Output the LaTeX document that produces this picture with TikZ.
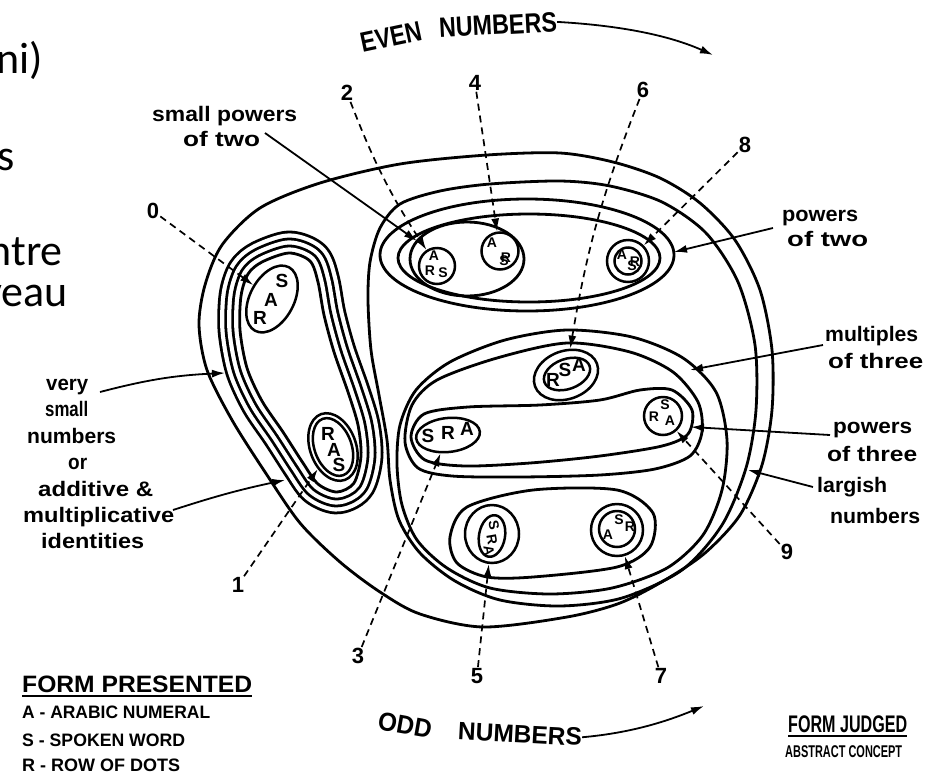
\documentclass[tikz,border=0pt]{standalone}
\usepackage{fontspec}
\usepackage{graphicx}
\setmainfont{Liberation Sans}
\newfontfamily\slidefont{Carlito}
\usetikzlibrary{arrows.meta,shapes.geometric}
\newcommand{\fw}[3]{\resizebox{#1pt}{\height}{\fontsize{#2}{#2}\selectfont\bfseries #3}}
\tikzset{
  contour/.style={line width=2.8pt, line join=round},
  dline/.style={line width=1.7pt, dash pattern=on 7pt off 5pt},
  arr/.style={-{Latex[length=13pt,width=8pt]}},
  larr/.style={line width=1.8pt, -{Latex[length=13pt,width=8pt]}},
  lab/.style={inner sep=0pt, anchor=base west},
  slide/.style={inner sep=0pt, anchor=base east, font=\slidefont\fontsize{44}{44}\selectfont},
  ltr/.style={inner sep=0pt, font=\fontsize{19}{19}\selectfont\bfseries},
  ltrs/.style={inner sep=0pt, font=\fontsize{14}{14}\selectfont\bfseries},
  ring/.style={draw, line width=2.5pt, circle, inner sep=0pt},
  oval/.style={draw, line width=2.5pt, ellipse, inner sep=0pt},
  num/.style={inner sep=1pt, font=\fontsize{22}{22}\selectfont\bfseries},
}
\begin{document}
\begin{tikzpicture}[x=1pt,y=-1pt]
\useasboundingbox (0,0) rectangle (930,772);
\fill[white] (0,0) rectangle (930,772);

% slide fragments
\node[slide] (sf1) at (43,73) {ni)};
\node[slide] (sf2) at (15,170) {s};
\node[slide] (sf3) at (63,265) {ntre};
\node[slide] (sf4) at (68,306) {veau};

% big contours
\draw[contour] plot[smooth cycle] coordinates {(199,325) (205,285) (222,245) (260,208) (320,183) (400,164) (487,155) (560,153) (613,162) (660,178) (700,203) (735,240) (760,290) (772,350) (772,410) (762,465) (740,515) (705,553) (665,580) (620,603) (567,617) (483,627) (420,614) (380,592) (340,562) (300,523) (265,472) (232,420) (207,370)};
\draw[contour] plot[smooth cycle] coordinates {(370,262) (380,228) (400,204) (440,191) (490,184) (560,181) (610,186) (662,202) (706,233) (738,282) (755,345) (756,410) (746,468) (722,525) (682,570) (622,598) (560,606) (500,600) (455,581) (420,553) (399,520) (390,480) (387,440) (379,395) (371,350) (368,300)};
\draw[contour] plot[smooth cycle] coordinates {(505,340) (567,330) (632,337) (683,358) (716,392) (727,440) (722,490) (703,535) (667,568) (612,588) (550,594) (490,588) (447,568) (417,540) (402,505) (397,465) (400,425) (416,390) (450,362)};
\draw[contour] plot[smooth cycle] coordinates {(497,358) (567,343) (630,352) (673,372) (698,402) (702,432) (690,456) (655,469) (600,475) (520,477) (452,476) (418,468) (405,442) (412,405) (437,380)};
\draw[contour] plot[smooth cycle] coordinates {(411,437) (424,414) (468,407) (540,405) (600,400) (640,390) (672,390) (692,410) (688,434) (662,446) (600,456) (530,463) (465,466) (425,460)};
\draw[contour] plot[smooth cycle] coordinates {(450,537) (467,507) (533,490) (617,490) (653,513) (650,547) (617,567) (533,577) (487,577) (457,563)};
% top group
\draw[contour] (527,255) ellipse [x radius=147pt, y radius=56pt];
\draw[contour] (529,258) ellipse [x radius=131pt, y radius=44pt];
\draw[contour] (467,259) ellipse [x radius=57pt, y radius=37pt];

% left group (nested parallel contours)
\foreach \w/\c in {44.8/black,39.2/white,30.8/black,25.2/white,16.8/black,11.2/white}{
  \draw[line width=\w pt, \c, line join=round] plot[smooth cycle] coordinates {(262,262) (289,253) (310,261) (318,282) (324,315) (334,352) (348,392) (358,425) (361,456) (354,483) (337,492) (318,484) (303,463) (283,432) (262,401) (247,368) (240,330) (241,296) (248,274)};
}
\filldraw[contour, fill=white] plot[smooth cycle] coordinates {(262,262) (289,253) (310,261) (318,282) (324,315) (334,352) (348,392) (358,425) (361,456) (354,483) (337,492) (318,484) (303,463) (283,432) (262,401) (247,368) (240,330) (241,296) (248,274)};

% elements
\node[oval, minimum width=72pt, minimum height=44pt, rotate=62] (e0) at (272,299) {};
\node[ltr] (l0s) at (282,281) {S};
\node[ltr] (l0a) at (271,300) {A};
\node[ltr] (l0r) at (260,318) {R};
\node[oval, minimum width=70pt, minimum height=46pt, rotate=-70] (e1o) at (333,447) {};
\node[oval, minimum width=60pt, minimum height=37pt, rotate=-70] (e1i) at (333,447) {};
\node[ltr] (l1r) at (328,434) {R};
\node[ltr] (l1a) at (334,450) {A};
\node[ltr] (l1s) at (339,465) {S};
\node[ring, minimum size=36pt] (e2) at (437,266) {};
\node[ltrs] (l2a) at (434,256) {A};
\node[ltrs] (l2r) at (430,271) {R};
\node[ltrs] (l2s) at (443,273) {S};
\node[ring, minimum size=37pt] (e4) at (500,251) {};
\node[ltrs] (l4a) at (492,243) {A};
\node[ltrs] (l4r) at (506,258) {R};
\node[ltrs] (l4s) at (504,261) {S};
\node[ring, minimum size=42pt] (e8o) at (628,261) {};
\node[ring, minimum size=27pt] (e8i) at (628,261) {};
\node[ltrs] (l8a) at (622,255) {A};
\node[ltrs] (l8r) at (635,262) {R};
\node[ltrs] (l8s) at (632,266) {S};
\node[oval, minimum width=66pt, minimum height=48pt, rotate=20] (e6o) at (566,375) {};
\node[oval, minimum width=48pt, minimum height=30pt, rotate=20] (e6i) at (567,374) {};
\node[ltr] (l6r) at (553,380) {R};
\node[ltr] (l6s) at (565,370) {S};
\node[ltr] (l6a) at (579,365) {A};
\node[oval, minimum width=64pt, minimum height=34pt, rotate=6] (e3) at (448,435) {};
\node[ltr] (l3s) at (428,436) {S};
\node[ltr] (l3r) at (448,433) {R};
\node[ltr] (l3a) at (467,429) {A};
\node[ring, minimum size=38pt] (e9) at (663,416) {};
\node[ltrs] (l9s) at (665,405) {S};
\node[ltrs] (l9r) at (654,417) {R};
\node[ltrs] (l9a) at (670,421) {A};
\node[oval, minimum width=54pt, minimum height=58pt] (e5o) at (492,534) {};
\node[oval, minimum width=26pt, minimum height=42pt, rotate=-10] (e5i) at (492,536) {};
\node[ltrs, rotate=-80] (l5s) at (494,525) {S};
\node[ltrs, rotate=-80] (l5r) at (492,540) {R};
\node[ltrs, rotate=-80] (l5a) at (489,551) {A};
\node[ring, minimum size=52pt] (e7o) at (617,530) {};
\node[ring, minimum size=36pt] (e7i) at (617,529) {};
\node[ltrs] (l7s) at (619,520) {S};
\node[ltrs] (l7r) at (630,527) {R};
\node[ltrs] (l7a) at (608,535) {A};

% numbers
\node[num] (n0) at (153,211) {0};
\node[num] (n1) at (238,585) {1};
\node[num] (n2) at (347,93) {2};
\node[num] (n3) at (358,656) {3};
\node[num] (n4) at (475,83) {4};
\node[num] (n5) at (477,676) {5};
\node[num] (n6) at (643,90) {6};
\node[num] (n7) at (661,676) {7};
\node[num] (n8) at (745,145) {8};
\node[num] (n9) at (787,552) {9};

\draw[dline, arr] (n0) -- (e0);
\draw[dline, arr] (n1) -- (e1o);
\draw[dline, arr] (n2) to[bend right=6] (e2);
\draw[dline, arr] (n4) -- (e4);
\draw[dline, arr] (n6) to[bend right=6] (e6o);
\draw[dline, arr] (n8) -- (e8o);
\draw[dline, arr] (n3) -- (e3);
\draw[dline, arr] (n5) -- (e5o);
\draw[dline, arr] (n7) -- (e7o);
\draw[dline, arr] (n9) -- (e9);

% labels
\node[lab] (tsp1) at (152,121) {\fw{145}{21}{small powers}};
\node[lab] (tsp2) at (183,146) {\fw{77}{21}{of two}};
\node[lab] (tpt1) at (782,221) {\fw{76}{21}{powers}};
\node[lab] (tpt2) at (787,246) {\fw{81}{21}{of two}};
\node[lab] (tmt1) at (825,341) {\fw{93}{21}{multiples}};
\node[lab] (tmt2) at (828,368) {\fw{95}{21}{of three}};
\node[lab] (tp31) at (833,433) {\fw{79}{21}{powers}};
\node[lab] (tp32) at (827,461) {\fw{90}{21}{of three}};
\node[lab] (tlg1) at (817,492) {\fw{70}{21}{largish}};
\node[lab] (tlg2) at (830,523) {\fw{90}{21}{numbers}};
\node[lab] (tv1) at (46,390) {\fw{42}{21}{very}};
\node[lab] (tv2) at (45,416) {\fw{43}{21}{small}};
\node[lab] (tv3) at (27,443) {\fw{89}{21}{numbers}};
\node[lab] (tv4) at (68,469) {\fw{19}{21}{or}};
\node[lab] (tv5) at (38,496) {\fw{115}{21}{additive \&}};
\node[lab] (tv6) at (23,522) {\fw{151}{21}{multiplicative}};
\node[lab] (tv7) at (41,548) {\fw{103}{21}{identities}};

% label arrows
\coordinate (a1s) at (265,133); \coordinate (a1t) at (417,241);
\draw[larr] (a1s) -- (a1t);
\coordinate (a2s) at (773,228); \coordinate (a2t) at (674,252);
\draw[larr] (a2s) -- (a2t);
\coordinate (a3s) at (823,345); \coordinate (a3t) at (690,370);
\draw[larr] (a3s) -- (a3t);
\coordinate (a4s) at (830,435); \coordinate (a4t) at (691,427);
\draw[larr] (a4s) -- (a4t);
\coordinate (a5s) at (813,487); \coordinate (a5t) at (748,470);
\draw[larr] (a5s) -- (a5t);
\coordinate (a6s) at (100,392); \coordinate (a6t) at (225,373);
\draw[larr] (a6s) to[bend left=6] (a6t);
\coordinate (a7s) at (173,510); \coordinate (a7t) at (285,480);
\draw[larr] (a7s) to[bend left=3] (a7t);

% EVEN / ODD
\node[inner sep=0pt, rotate=12] (tev1) at (391,37) {\fw{62}{28}{EVEN}};
\node[inner sep=0pt, rotate=3] (tev2) at (498,25) {\fw{118}{28}{NUMBERS}};
\coordinate (ev1) at (713,55);
\draw[larr] (tev2.east) .. controls (630,26) and (675,38) .. (ev1);
\node[inner sep=0pt, rotate=-10] (tod1) at (405,725) {\fw{54}{26}{ODD}};
\node[inner sep=0pt, rotate=-3] (tod2) at (520,734) {\fw{124}{25}{NUMBERS}};
\coordinate (od1) at (704,706);
\draw[larr] (tod2.east) .. controls (630,733) and (665,722) .. (od1);

% legends
\node[lab] (fp) at (22,692) {\fw{230}{23.7}{FORM PRESENTED}};
\draw[line width=1.6pt] ([yshift=-4pt]fp.base west) -- ([yshift=-4pt]fp.base east);
\node[lab] (fpa) at (22,718) {\fw{188}{18}{A - ARABIC NUMERAL}};
\node[lab] (fps) at (22,746) {\fw{163}{18}{S - SPOKEN WORD}};
\node[lab] (fpr) at (22,771) {\fw{158}{18}{R - ROW OF DOTS}};
\node[lab] (fj) at (788,732) {\fw{119}{24}{FORM JUDGED}};
\draw[line width=1.6pt] ([yshift=-4pt]fj.base west) -- ([yshift=-4pt]fj.base east);
\node[lab] (fja) at (785,757) {\fw{117}{17}{ABSTRACT CONCEPT}};
\end{tikzpicture}
\end{document}
